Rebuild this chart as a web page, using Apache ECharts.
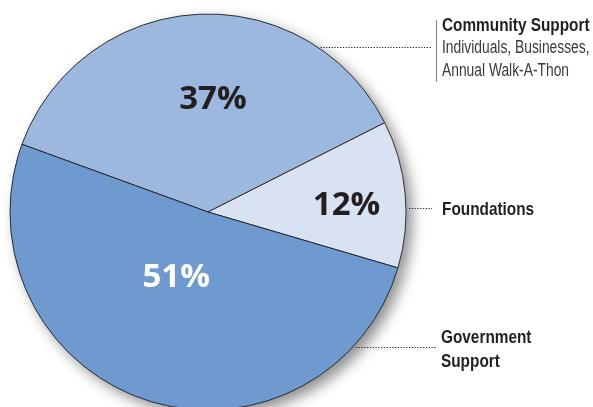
<!DOCTYPE html>
<html><head><meta charset="utf-8">
<script src="https://cdn.jsdelivr.net/npm/echarts@6/dist/echarts.min.js"></script>
<style>html,body{margin:0;padding:0;background:#fff}#c{width:593px;height:407px}</style>
</head><body><div id="c"></div>
<script>
// ---- data ----
const categories = ['Community Support', 'Foundations', 'Government Support'];
const values = [37, 12, 51];
const labelTitles = [['Community Support'], ['Foundations'], ['Government', 'Support']];
const labelNotes = [['Individuals, Businesses,', 'Annual Walk-A-Thon'], [], []];

// ---- style ----
const colors = ['#9db8de', '#d8e2f2', '#6e9acf'];
const pctColors = ['#231f20', '#231f20', '#ffffff'];
const pctOffsets = [[11, -11], [37, 3], [0, -31]];
const CX = 208, CY = 212, R = 198;
const labelBoxes = [
  { x: 442, titleY: 26, lineH: 22.5, leaderY: 47, leaderEnd: 432, bar: [20, 82] },
  { x: 442, titleY: 209.5, lineH: 22, leaderY: 208, leaderEnd: 432 },
  { x: 441, titleY: 338, lineH: 23.5, leaderY: 347, leaderEnd: 437 }
];
const labelFont = '"Liberation Sans", Arial, sans-serif';
const pctFont = '"Open Sans", "Noto Sans", sans-serif';

const ink = '#231f20';
const graphics = [];
function addText(t, x, y, font, fill, sx) {
  graphics.push({ type: 'text', x: x, y: y, scaleX: sx, z: 10,
    style: { x: 0, y: 0, text: t, fill: fill, font: font, textAlign: 'left', textVerticalAlign: 'middle', verticalAlign: 'middle' } });
}
labelBoxes.forEach((b, i) => {
  let y = b.titleY;
  labelTitles[i].forEach(t => { addText(t, b.x, y, 'bold 18.5px ' + labelFont, ink, 0.83); y += b.lineH; });
  labelNotes[i].forEach(t => { addText(t, b.x, y, '17.5px ' + labelFont, '#3a3a3a', 0.79); y += b.lineH; });
  const sx = CX + Math.sqrt(R * R - (b.leaderY - CY) * (b.leaderY - CY)) + 3;
  graphics.push({ type: 'line', z: 10, shape: { x1: sx, y1: b.leaderY + 0.5, x2: b.leaderEnd, y2: b.leaderY + 0.5 },
    style: { stroke: ink, lineWidth: 1.1, lineDash: [1.2, 1.6] } });
  if (b.bar) {
    graphics.push({ type: 'line', z: 10, shape: { x1: 436.5, y1: b.bar[0], x2: 436.5, y2: b.bar[1] },
      style: { stroke: '#8a8a8a', lineWidth: 1.2 } });
  }
});

const pieData = categories.map((c, i) => ({
  name: c, value: values[i],
  itemStyle: { color: colors[i] },
  label: { color: pctColors[i] }
}));

const chart = echarts.init(document.getElementById('c'), null, { renderer: 'canvas' });
chart.setOption({
  animation: false,
  backgroundColor: '#ffffff',
  graphic: graphics,
  series: [
    { // shadow layer
      type: 'pie', silent: true, center: [CX, CY], radius: R, startAngle: 160, clockwise: true,
      label: { show: false }, labelLine: { show: false },
      itemStyle: { shadowBlur: 14, shadowOffsetX: 6, shadowOffsetY: 6, shadowColor: 'rgba(0,0,0,0.45)' },
      data: categories.map((c, i) => ({ name: c, value: values[i], itemStyle: { color: colors[i] } }))
    },
    {
      type: 'pie', center: [CX, CY], radius: R, startAngle: 160, clockwise: true,
      emphasis: { disabled: true },
      itemStyle: { borderColor: ink, borderWidth: 0.9 },
      label: { show: true, position: 'inside', formatter: '{c}%', fontSize: 33, fontWeight: 'bold', fontFamily: pctFont },
      labelLine: { show: false },
      labelLayout: function (p) { const o = pctOffsets[p.dataIndex]; return { dx: o[0], dy: o[1] }; },
      data: pieData
    }
  ]
});
</script>
</body></html>
